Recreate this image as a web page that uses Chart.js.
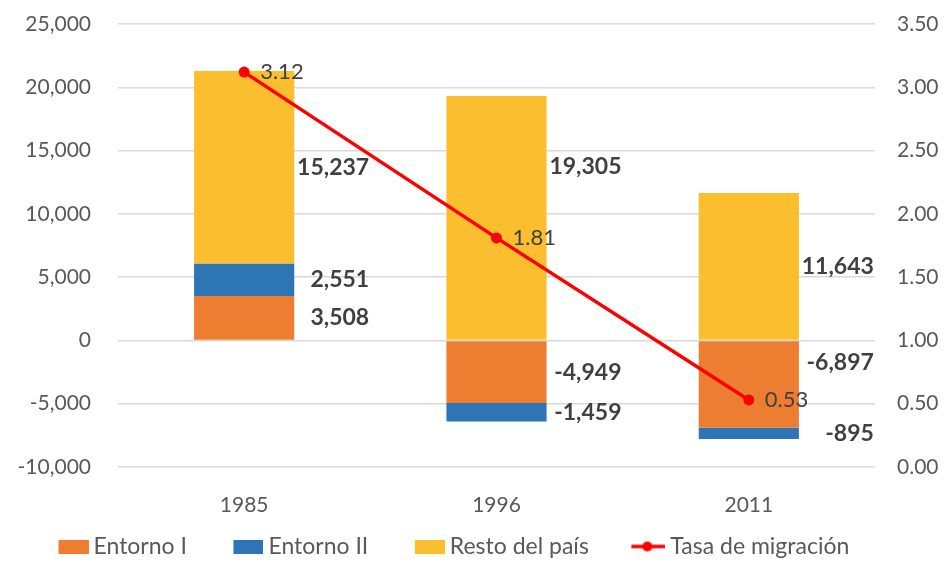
<!DOCTYPE html>
<html>
<head>
<meta charset="utf-8">
<script src="https://cdn.jsdelivr.net/npm/chart.js@4.4.1/dist/chart.umd.min.js"></script>
<style>
html,body{margin:0;padding:0;background:#fff;}
</style>
</head>
<body>
<canvas id="grafico" width="952" height="578"></canvas>
<script>
// datos
var anios = ['1985', '1996', '2011'];
var entornoI = [3508, -4949, -6897];
var entornoII = [2551, -1459, -895];
var restoPais = [15237, 19305, 11643];
var tasaMigracion = [3.12, 1.81, 0.53];
var ejeIzq = [-10000, 25000, 5000];   // min, max, paso
var ejeDer = [0, 3.5, 0.5];

var gris = '#595959';
var transparente = 'rgba(0,0,0,0)';
Chart.defaults.font.family = 'Lato, "Open Sans", sans-serif';
Chart.defaults.color = gris;

// iconos de la leyenda (el dibujo queda a la derecha de la imagen)
function cuadro(color){
    var c = document.createElement('canvas');
    c.width = 73; c.height = 14;
    var x = c.getContext('2d');
    x.fillStyle = color;
    x.fillRect(43, 0, 30, 14);
    return c;
}
function lineaPunto(color){
    var c = document.createElement('canvas');
    c.width = 73; c.height = 12;
    var x = c.getContext('2d');
    x.strokeStyle = color; x.lineWidth = 3.5;
    x.beginPath(); x.moveTo(39, 6); x.lineTo(73, 6); x.stroke();
    x.fillStyle = color;
    x.beginPath(); x.arc(55, 6, 5, 0, Math.PI*2); x.fill();
    return c;
}

// etiquetas de valores
var etiquetas = {
    id: 'etiquetas',
    afterDatasetsDraw: function(chart, args, opts){
        var ctx = chart.ctx;
        ctx.save();
        ctx.textBaseline = 'middle';
        ctx.fillStyle = '#404040';
        chart.data.datasets.forEach(function(ds, i){
            var meta = chart.getDatasetMeta(i);
            meta.data.forEach(function(el, j){
                var v = ds.data[j];
                if (ds.type === 'line'){
                    ctx.font = '22px Lato';
                    ctx.textAlign = 'left';
                    ctx.fillText(v.toFixed(2), el.x + 16, el.y);
                } else {
                    var yc = (el.y + el.base) / 2 + (opts.nudge[i + '-' + j] || 0);
                    ctx.font = 'bold 23px Lato';
                    ctx.textAlign = 'right';
                    ctx.fillText(v.toLocaleString('en-US'), el.x + 125, yc);
                }
            });
        });
        ctx.restore();
    }
};

var grafico = new Chart(document.getElementById('grafico').getContext('2d'), {
    data: {
        labels: anios,
        datasets: [{
            type: 'bar', label: 'Entorno I', data: entornoI,
            backgroundColor: '#ED7D31', yAxisID: 'y', stack: 's', order: 1,
            barPercentage: 0.397, categoryPercentage: 1
        }, {
            type: 'bar', label: 'Entorno II', data: entornoII,
            backgroundColor: '#2E75B6', yAxisID: 'y', stack: 's', order: 1,
            barPercentage: 0.397, categoryPercentage: 1
        }, {
            type: 'bar', label: 'Resto del país', data: restoPais,
            backgroundColor: '#FBBE2E', yAxisID: 'y', stack: 's', order: 1,
            barPercentage: 0.397, categoryPercentage: 1
        }, {
            type: 'line', label: 'Tasa de migración', data: tasaMigracion,
            borderColor: '#FF0000', backgroundColor: '#FF0000', yAxisID: 'y1', order: 0,
            borderWidth: 3.5, pointRadius: 5.5, pointBorderWidth: 0, tension: 0
        }]
    },
    options: {
        responsive: false,
        animation: false,
        layout: { padding: { left: 12, right: 0, top: 24, bottom: 10 } },
        plugins: {
            tooltip: { enabled: false },
            etiquetas: { nudge: { '2-1': -51, '0-2': -22 } },
            legend: {
                position: 'bottom',
                align: 'start',
                labels: {
                    usePointStyle: true,
                    pointStyleWidth: 60,
                    padding: 10,
                    color: gris,
                    font: { size: 23 },
                    sort: function(a, b){ return a.datasetIndex - b.datasetIndex; },
                    generateLabels: function(chart){
                        var items = Chart.defaults.plugins.legend.labels.generateLabels(chart);
                        items.forEach(function(it){
                            var ds = chart.data.datasets[it.datasetIndex];
                            it.pointStyle = ds.type === 'line' ? lineaPunto(ds.borderColor) : cuadro(ds.backgroundColor);
                        });
                        return items;
                    }
                }
            }
        },
        scales: {
            x: {
                stacked: true,
                offset: true,
                grid: { display: false },
                border: { display: false },
                ticks: { font: { size: 21 }, color: gris, padding: 18 },
                afterFit: function(s){ s.height = 58; }
            },
            y: {
                stacked: true,
                min: ejeIzq[0], max: ejeIzq[1],
                grid: { color: '#D9D9D9', lineWidth: 1.5, tickLength: 27, tickColor: transparente },
                border: { display: false },
                ticks: {
                    stepSize: ejeIzq[2], padding: 0, font: { size: 21 }, color: gris,
                    callback: function(v){ return v.toLocaleString('en-US'); }
                },
                afterFit: function(s){ s.width = 106; }
            },
            y1: {
                position: 'right',
                min: ejeDer[0], max: ejeDer[1],
                grid: { drawOnChartArea: false, tickLength: 22, tickColor: transparente },
                border: { display: false },
                ticks: {
                    stepSize: ejeDer[2], padding: 0, font: { size: 21 }, color: gris,
                    callback: function(v){ return v.toFixed(2); }
                },
                afterFit: function(s){ s.width = 77; }
            }
        }
    },
    plugins: [etiquetas]
});
</script>
</body>
</html>
